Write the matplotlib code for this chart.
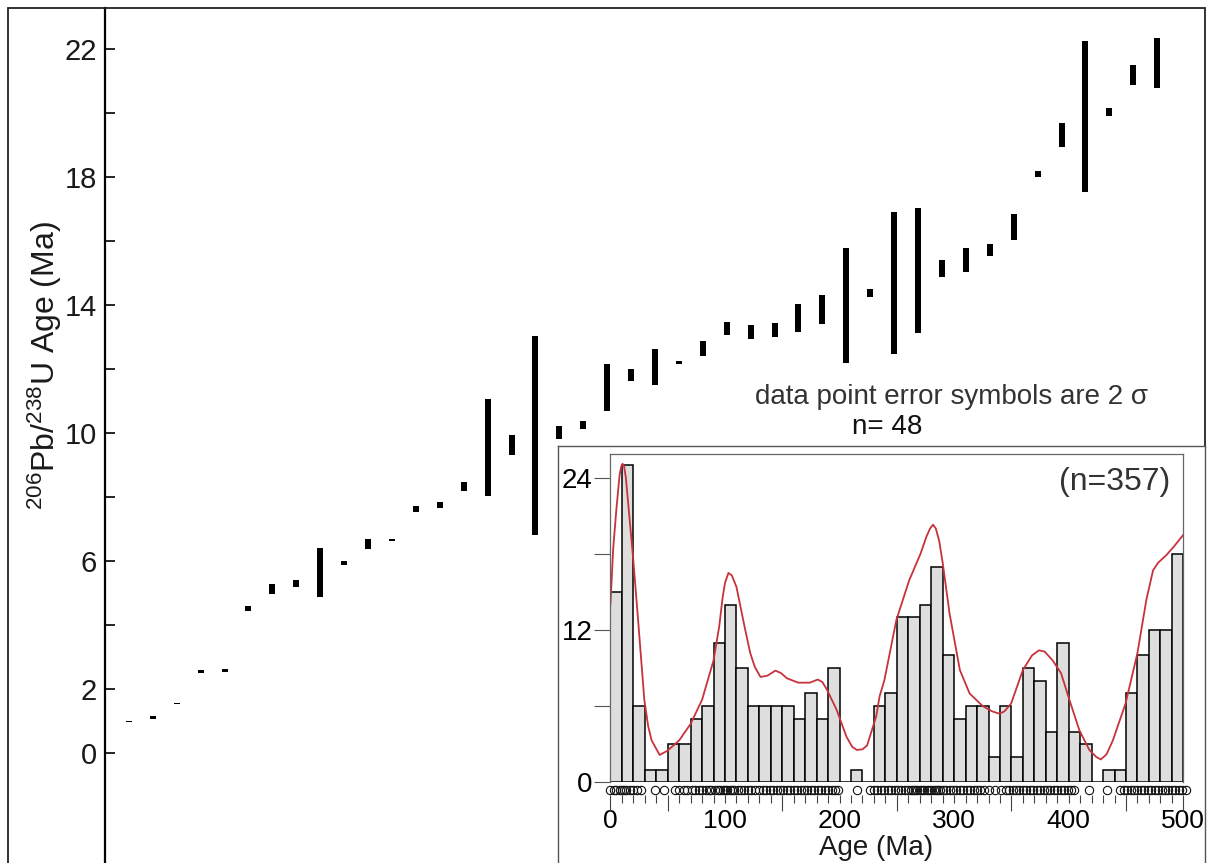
#
#   Ranked 206Pb/238U zircon ages with 2 sigma error bars,
#   plus inset histogram / density curve of the detrital ages
#

import numpy as np
import matplotlib.pyplot as plt
from matplotlib.patches import Rectangle
from matplotlib.ticker import FixedLocator, MultipleLocator

plt.rcParams['font.family'] = ['Liberation Sans', 'DejaVu Sans']
plt.rcParams['mathtext.default'] = 'regular'

W, H = 1207, 863  # output size in pixels

# 2 sigma age range of each grain (Ma), ranked by age
age_low = [0.95, 1.06, 1.51, 2.48, 2.52, 4.43, 4.96, 5.18, 4.87, 5.86,
           6.36, 6.61, 7.51, 7.63, 8.19, 8.02, 9.30, 6.80, 9.79, 10.12,
           10.68, 11.62, 11.49, 12.13, 12.38, 13.05, 12.93, 13.00, 13.16, 13.38,
           12.17, 14.23, 12.45, 13.12, 14.87, 15.03, 15.52, 16.02, 17.98, 18.92,
           17.53, 19.90, 20.87, 20.78]
age_high = [1.00, 1.13, 1.55, 2.57, 2.62, 4.58, 5.27, 5.40, 6.40, 5.98,
            6.67, 6.67, 7.71, 7.84, 8.45, 11.04, 9.93, 13.03, 10.21, 10.37,
            12.14, 11.98, 12.61, 12.25, 12.87, 13.47, 13.37, 13.42, 14.01, 14.30,
            15.78, 14.49, 16.91, 17.03, 15.40, 15.76, 15.90, 16.82, 18.19, 19.69,
            22.25, 20.16, 21.49, 22.34]
y_ticks = [0, 2, 4, 6, 8, 10, 12, 14, 16, 18, 20, 22]
y_ticklabels = ['0', '2', '', '6', '', '10', '', '14', '', '18', '', '22']

# inset: detrital ages, 10 Ma bins
bin_starts = np.arange(0, 500, 10)
bin_counts = [15, 25, 6, 1, 1, 3, 3, 5, 6, 11,
              14, 9, 6, 6, 6, 6, 5, 7, 5, 9,
              0, 1, 0, 6, 7, 13, 13, 14, 17, 10,
              5, 6, 6, 2, 6, 2, 9, 8, 4, 11,
              4, 3, 0, 1, 1, 7, 10, 12, 12, 18]

# probability density curve (in count units)
curve_age = [0, 2.5, 5.4, 8, 9.5, 10.6, 12, 13.5, 17, 20,
             24.6, 29.6, 33, 36, 43, 50, 60, 70, 80, 90,
             95, 98, 100, 103, 106, 110, 117, 122, 126, 131,
             137, 144, 149, 154, 164, 174, 181, 185, 189, 197.5,
             206, 211, 215, 220, 224, 232, 235, 239, 249.6, 260.7,
             270.6, 276, 279, 281.6, 284, 287, 290, 296, 305, 313.5,
             325, 333, 339.6, 344, 349.7, 360, 368, 374, 379, 386,
             393.3, 400.6, 409.3, 418, 424, 428, 433, 438.5, 449.6, 460,
             467.8, 473.6, 478, 485.2, 492, 500]
curve_val = [14.0, 18.5, 21.7, 24.2, 24.9, 25.1, 24.9, 24.0, 20.5, 17.5,
             12.3, 6.5, 4.4, 3.3, 2.15, 2.5, 3.3, 4.6, 6.5, 9.6,
             12.3, 14.6, 15.7, 16.5, 16.3, 15.4, 12.3, 10.2, 9.1, 8.3,
             8.4, 8.8, 8.6, 8.2, 7.85, 7.85, 8.1, 7.9, 7.3, 5.7,
             3.6, 2.8, 2.55, 2.6, 2.9, 5.2, 6.8, 8.0, 12.8, 15.9,
             18.0, 19.4, 20.0, 20.3, 20.0, 19.0, 17.3, 13.3, 8.85, 7.0,
             6.0, 5.6, 5.4, 5.6, 6.2, 8.85, 10.0, 10.4, 10.3, 9.6,
             8.6, 6.5, 4.1, 2.55, 2.0, 1.8, 2.2, 3.3, 6.2, 10.2,
             14.4, 16.7, 17.3, 17.9, 18.6, 19.5]

# individual grain ages shown as circles under the axis
grain_ages = [0, 3, 5, 8, 10, 12, 14, 17, 20, 23, 27,
              39, 47,
              56, 60, 64, 67,
              71, 74, 77, 80, 83, 86, 88, 91, 94, 96, 98, 100, 102, 104, 106, 108,
              111, 114, 117, 120, 123, 126, 130, 133, 136, 139, 142, 145, 148, 151,
              154, 157, 160, 163, 166, 169, 172, 175, 178, 181, 184, 187, 190, 193,
              196, 199,
              215,
              227, 230, 233, 236, 239, 242, 245, 248, 251, 254, 257, 260, 262, 264,
              266, 268, 270, 272, 274, 276, 278, 280, 282, 284, 286, 288, 290, 293,
              296, 299, 302, 305, 308, 311, 314, 317, 320, 323, 326, 330,
              336, 341, 345, 348, 351, 354, 357, 360, 363, 366, 369, 372, 375, 378,
              381, 384, 387, 390, 393, 396, 399, 402, 405,
              418, 433,
              445, 448, 451, 454, 457, 460, 463, 466, 469, 472, 475, 478, 481, 484,
              487, 490, 493, 496, 499, 502]
hist_ticks = [0, 100, 200, 300, 400, 500]


def fx(px):
    return px / W


def fy(py):
    return 1 - py / H


fig = plt.figure(figsize=(W / 100, H / 100), dpi=100)

# outer frame
fig.add_artist(Rectangle((fx(8), -0.05), fx(1197), fy(8) + 0.05,
                         transform=fig.transFigure, fill=False,
                         lw=1.3, ec='#222222'))

# main ranked-age plot
ax = fig.add_axes([fx(105), 0, fx(1100), fy(8)])
rank = np.arange(1, len(age_low) + 1)
lo = np.array(age_low)
hi = np.array(age_high)
ax.bar(rank, hi - lo, bottom=lo, width=0.25, color='black')
ax.set_xlim(0, 46)
ax.set_ylim(-3.45, 23.27)
for s in ['top', 'right', 'bottom']:
    ax.spines[s].set_visible(False)
ax.spines['left'].set_linewidth(1.6)
ax.set_xticks([])
ax.set_yticks(y_ticks)
ax.set_yticklabels(y_ticklabels)
ax.tick_params(axis='y', direction='in', length=7, width=1.2,
               labelsize=21, pad=6, labelcolor='#1a1a1a')

fig.text(fx(45), fy(366), r'$^{206}$Pb/$^{238}$U Age (Ma)', rotation=90,
         ha='center', va='center', fontsize=23, color='#1a1a1a')
fig.text(fx(755), fy(397), 'data point error symbols are 2 σ',
         ha='left', va='center', fontsize=20, color='#333333')
fig.text(fx(852), fy(427), 'n= 48', ha='left', va='center',
         fontsize=20, color='#111111')

# white box behind the inset
axb = fig.add_axes([fx(558), 0, fx(647), fy(446)], zorder=3)
axb.set_facecolor('white')
axb.set_xticks([])
axb.set_yticks([])
axb.spines['bottom'].set_visible(False)
for s in ['top', 'left', 'right']:
    axb.spines[s].set_color('#555555')
    axb.spines[s].set_linewidth(1.0)

# inset histogram
axi = fig.add_axes([fx(610.4), fy(782.3), fx(572.9), fy(454) - fy(782.3)],
                   zorder=4)
axi.set_facecolor('none')
axi.bar(bin_starts, bin_counts, width=10, align='edge', color='#dedede',
        edgecolor='black', linewidth=1.1)
axi.plot(curve_age, curve_val, color='#c8323c', lw=1.3,
         solid_joinstyle='round')
axi.plot(grain_ages, [-0.61] * len(grain_ages), 'o', ls='none', mfc='none',
         mec='#111111', ms=6, mew=0.8, clip_on=False)
axi.set_xlim(0, 500)
axi.set_ylim(0, 25.87)
for s in ['top', 'left', 'right']:
    axi.spines[s].set_color('#666666')
    axi.spines[s].set_linewidth(0.9)
axi.spines['bottom'].set_position(('outward', 9.4))
axi.spines['bottom'].set_visible(False)

axi.set_yticks([0, 6, 12, 18, 24])
axi.set_yticklabels(['0', '', '12', '', '24'])
axi.tick_params(axis='y', direction='out', length=11.5, width=0.8,
                color='#555555', labelsize=20, pad=1.5)

axi.xaxis.set_major_locator(FixedLocator([0, 50, 150, 250, 350, 450, 500]))
axi.xaxis.set_minor_locator(MultipleLocator(10))
axi.set_xticklabels([])
axi.tick_params(axis='x', which='major', direction='out', length=11.5,
                width=0.8, color='#444444')
axi.tick_params(axis='x', which='minor', direction='out', length=5.8,
                width=0.8, color='#444444')

sec = axi.secondary_xaxis(-13 / 328.3)
sec.set_xticks(hist_ticks)
sec.set_xticklabels([str(t) for t in hist_ticks])
sec.tick_params(length=0, labelsize=19, pad=10)
sec.spines['bottom'].set_visible(False)

fig.text(fx(876), fy(848), 'Age (Ma)', ha='center', va='center',
         fontsize=20, color='#1a1a1a')
fig.text(fx(1115), fy(482), '(n=357)', ha='center', va='center',
         fontsize=23, color='#333333')

fig.savefig('out.png', dpi=100)
